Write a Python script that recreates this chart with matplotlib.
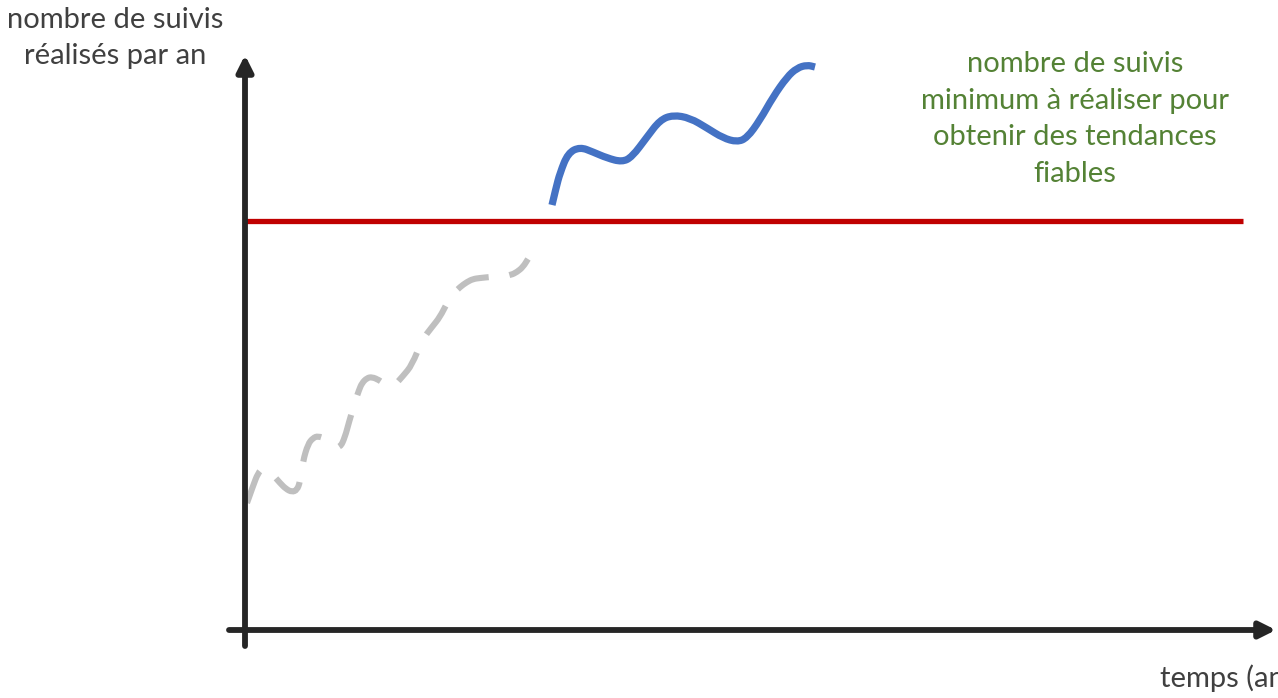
import numpy as np
import matplotlib.pyplot as plt
from matplotlib.path import Path
from matplotlib.patches import PathPatch

# valeurs (coordonnées en pixels)
blue_x = [552, 556, 560, 568, 580, 593, 607, 622, 632, 647, 660, 673, 690, 707, 723, 737, 747, 760, 773, 787, 797, 807, 815]
blue_y = [205, 188, 173, 153, 147, 152, 158, 162, 157, 137, 120, 115, 118, 128, 138, 142, 138, 120, 97, 77, 68, 65, 67]

grey_x = [247, 253, 258, 263, 268, 274, 280, 286, 292, 297, 300, 303, 308, 313, 318, 326, 333, 340, 345, 349, 355, 359, 362, 367, 372, 379, 386, 393, 403, 412, 422, 432, 440, 447, 453, 460, 467, 473, 480, 490, 503, 511, 517, 523, 528]
grey_y = [503, 486, 473, 468, 470, 476, 483, 489, 492, 490, 482, 461, 444, 438, 436, 439, 445, 448, 437, 422, 402, 390, 383, 378, 377, 380, 385, 387, 376, 365, 340, 327, 317, 303, 294, 287, 282, 279, 278, 277, 276, 275, 272, 267, 259]

seuil_y = 221
seuil_x = [246, 1243]

ylabel = "nombre de suivis\nréalisés par an"
xlabel = "temps (années)"
seuil_label = "nombre de suivis\nminimum à réaliser pour\nobtenir des tendances\nfiables"

plt.rcParams['font.family'] = ['Lato', 'DejaVu Sans']


def smooth_path(xs, ys):
    # courbe lissée : béziers quadratiques passant par les milieux
    pts = np.column_stack([xs, ys]).astype(float)
    verts = [pts[0]]
    codes = [Path.MOVETO]
    for i in range(1, len(pts) - 1):
        mid = (pts[i] + pts[i + 1]) / 2
        verts += [pts[i], mid]
        codes += [Path.CURVE3, Path.CURVE3]
    verts.append(pts[-1])
    codes.append(Path.LINETO)
    return Path(verts, codes)


fig = plt.figure(figsize=(12.78, 6.98), dpi=100)
ax = fig.add_axes([0, 0, 1, 1])
ax.set_xlim(0, 1278)
ax.set_ylim(698, 0)
ax.axis('off')

axis_col = '#262626'
# axes avec flèches
ax.annotate('', xy=(245, 55), xytext=(245, 646),
            arrowprops=dict(arrowstyle='-|>', color=axis_col, lw=4.2, mutation_scale=24, shrinkA=0, shrinkB=0))
ax.annotate('', xy=(1276, 630), xytext=(229, 630),
            arrowprops=dict(arrowstyle='-|>', color=axis_col, lw=4.2, mutation_scale=24, shrinkA=0, shrinkB=0))

ax.plot(seuil_x, [seuil_y, seuil_y], color='#C00000', lw=3.8, solid_capstyle='butt')

ax.add_patch(PathPatch(smooth_path(grey_x, grey_y), fill=False, edgecolor='#BFBFBF', lw=4.4,
                       linestyle=(0, (5.6, 3.4)), capstyle='butt'))
ax.add_patch(PathPatch(smooth_path(blue_x, blue_y), fill=False, edgecolor='#4472C4', lw=5.2,
                       capstyle='butt', joinstyle='round'))

ax.text(115, 38, ylabel, ha='center', va='center', fontsize=21, color='#404040', linespacing=1.5)
ax.text(1160, 678, xlabel, ha='left', va='center', fontsize=21, color='#404040', clip_on=True)
ax.text(1075, 119, seuil_label, ha='center', va='center', fontsize=21, color='#548235', linespacing=1.5)

fig.savefig('out.png', dpi=100)
